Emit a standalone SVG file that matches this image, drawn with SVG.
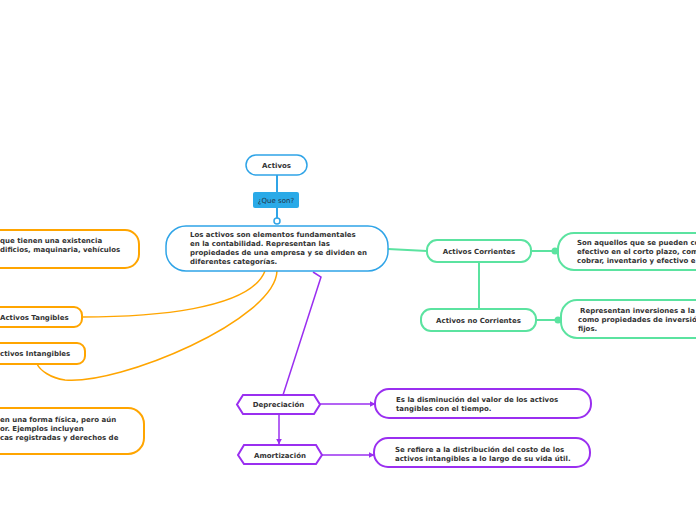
<svg xmlns="http://www.w3.org/2000/svg" width="696" height="520" viewBox="0 0 696 520">
<defs>
<style>
.t{font-family:"DejaVu Sans",Verdana,sans-serif;font-weight:bold;font-size:7px;fill:#333}
.c{text-anchor:middle}
.bl{fill:#fff;stroke:#2fa4e7;stroke-width:1.5}
.or{fill:#fff;stroke:#ffa500;stroke-width:2}
.gr{fill:#fff;stroke:#5be3a0;stroke-width:2}
.pu{fill:#fff;stroke:#9a2ff0;stroke-width:2}
.lo{fill:none;stroke:#ffa500;stroke-width:1.5}
.lg{fill:none;stroke:#5be3a0;stroke-width:2}
.lp{fill:none;stroke:#9a2ff0;stroke-width:1.5}
</style>
<marker id="ap" viewBox="0 0 10 10" refX="9" refY="5" markerWidth="6" markerHeight="6" orient="auto" markerUnits="userSpaceOnUse"><path d="M0,0 L10,5 L0,10 z" fill="#9a2ff0"/></marker>
</defs>
<rect width="696" height="520" fill="#fff"/>
<g id="connectors">
<line x1="277" y1="175" x2="277" y2="221" stroke="#2fa4e7" stroke-width="2"/>
<circle cx="277" cy="221" r="3" fill="#fff" stroke="#2fa4e7" stroke-width="1.5"/>
<path class="lo" d="M265,271 C250,310 150,317 82,317"/>
<path class="lo" d="M277,271 C275,320 120,385 65,380 C50,378 40,370 37,364"/>
<path class="lp" d="M313,272 L321,277 L283,395"/>
<line class="lp" x1="279" y1="414" x2="279" y2="444" marker-end="url(#ap)"/>
<line class="lp" x1="320" y1="404" x2="375" y2="404" marker-end="url(#ap)"/>
<line class="lp" x1="322" y1="455" x2="374" y2="455" marker-end="url(#ap)"/>
<path class="lg" d="M388,249 L427,251"/>
<line class="lg" x1="531" y1="251" x2="555" y2="251"/>
<circle cx="555" cy="251" r="3.5" fill="#5be3a0"/>
<line class="lg" x1="479" y1="262" x2="479" y2="309"/>
<line class="lg" x1="536" y1="320" x2="558" y2="320"/>
<circle cx="558" cy="320" r="3.5" fill="#5be3a0"/>
</g>
<g id="activos">
<rect class="bl" x="246" y="155" width="61" height="20" rx="10"/>
<text class="t c" x="276.5" y="168">Activos</text>
</g>
<g id="que-son">
<rect x="253" y="192" width="46" height="16" rx="2" fill="#2aaae8"/>
<text x="276" y="203" font-family="DejaVu Sans,sans-serif" font-size="7" fill="#234" text-anchor="middle">¿Que son?</text>
</g>
<g id="principal">
<rect class="bl" x="166" y="226" width="222" height="45" rx="20"/>
<text class="t" x="190" y="237">Los activos son elementos fundamentales</text>
<text class="t" x="190" y="246">en la contabilidad. Representan las</text>
<text class="t" x="190" y="255">propiedades de una empresa y se dividen en</text>
<text class="t" x="190" y="264">diferentes categorías.</text>
</g>
<g id="tangibles-desc">
<rect class="or" x="-30" y="230" width="169" height="38" rx="14"/>
<text class="t" x="0" y="243">que tienen una existencia</text>
<text class="t" x="0" y="252">dificios, maquinaria, vehículos</text>
</g>
<g id="tangibles">
<rect class="or" x="-30" y="307" width="112" height="20" rx="8"/>
<text class="t" x="0" y="320">Activos Tangibles</text>
</g>
<g id="intangibles">
<rect class="or" x="-30" y="343" width="115" height="21" rx="8"/>
<text class="t" x="0" y="356">ctivos Intangibles</text>
</g>
<g id="intangibles-desc">
<rect class="or" x="-30" y="408" width="174" height="46" rx="16"/>
<text class="t" x="0" y="422">en una forma física, pero aún</text>
<text class="t" x="0" y="431">or. Ejemplos incluyen</text>
<text class="t" x="0" y="440">cas registradas y derechos de</text>
</g>
<g id="corrientes">
<rect class="gr" x="427" y="240" width="104" height="22" rx="10"/>
<text class="t c" x="479" y="254">Activos Corrientes</text>
</g>
<g id="corrientes-desc">
<rect class="gr" x="558" y="233" width="170" height="37" rx="16"/>
<text class="t" x="577" y="245">Son aquellos que se pueden co</text>
<text class="t" x="577" y="254">efectivo en el corto plazo, com</text>
<text class="t" x="577" y="263">cobrar, inventario y efectivo e</text>
</g>
<g id="no-corrientes">
<rect class="gr" x="421" y="309" width="115" height="22" rx="10"/>
<text class="t c" x="478.5" y="323">Activos no Corrientes</text>
</g>
<g id="no-corrientes-desc">
<rect class="gr" x="561" y="300" width="170" height="38" rx="16"/>
<text class="t" x="580" y="313">Representan inversiones a la</text>
<text class="t" x="578" y="322">como propiedades de inversió</text>
<text class="t" x="578" y="331">fijos.</text>
</g>
<g id="depreciacion">
<polygon class="pu" points="237,404.5 243,395 314,395 320,404.5 314,414 243,414"/>
<text class="t c" x="278.5" y="407">Depreciación</text>
</g>
<g id="amortizacion">
<polygon class="pu" points="238,455 244,445 316,445 322,455 316,464 244,464"/>
<text class="t c" x="280" y="458">Amortización</text>
</g>
<g id="depreciacion-desc">
<rect class="pu" x="375" y="389" width="216" height="29" rx="14"/>
<text class="t" x="396" y="402">Es la disminución del valor de los activos</text>
<text class="t" x="396" y="411">tangibles con el tiempo.</text>
</g>
<g id="amortizacion-desc">
<rect class="pu" x="374" y="438" width="216" height="29" rx="14"/>
<text class="t" x="395" y="452">Se refiere a la distribución del costo de los</text>
<text class="t" x="395" y="461">activos intangibles a lo largo de su vida útil.</text>
</g>
</svg>
